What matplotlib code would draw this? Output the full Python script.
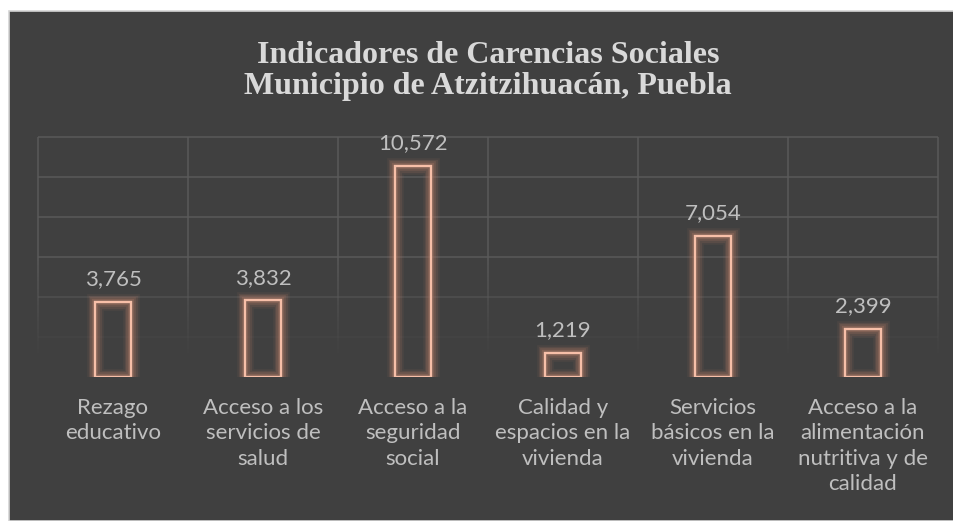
import matplotlib
matplotlib.use("Agg")
import matplotlib.pyplot as plt
from matplotlib.patches import Rectangle
from matplotlib.collections import LineCollection
import numpy as np

categories = ["Rezago\neducativo",
              "Acceso a los\nservicios de\nsalud",
              "Acceso a la\nseguridad\nsocial",
              "Calidad y\nespacios en la\nvivienda",
              "Servicios\nbásicos en la\nvivienda",
              "Acceso a la\nalimentación\nnutritiva y de\ncalidad"]
values = [3765, 3832, 10572, 1219, 7054, 2399]
yticks = [0, 2000, 4000, 6000, 8000, 10000, 12000]
title = "Indicadores de Carencias Sociales\nMunicipio de Atzitzihuacán, Puebla"

BG = "#404040"
EDGE = "#F7BFA8"
GLOW = "#A87462"
TXT = "#BFBFBF"
TITLE_C = "#D9D9D9"
FONT = "Lato"

W, H = 954, 521
fig = plt.figure(figsize=(W / 100, H / 100), dpi=100)
fig.patch.set_facecolor("white")
panel = Rectangle((9 / W, 0), 1 - 9 / W, 1 - 11 / H, transform=fig.transFigure,
                  facecolor=BG, edgecolor="#D4D4D4", lw=1.2, zorder=-10)
fig.patches.append(panel)

ax = fig.add_axes([38 / W, 144 / H, 900 / W, 240 / H])
ax.set_facecolor("none")
x = np.arange(len(values))
ax.set_xlim(-0.5, len(values) - 0.5)
ax.set_ylim(yticks[0], yticks[-1])
for s in ax.spines.values():
    s.set_visible(False)
ax.set_xticks([])
ax.set_yticks([])

# gridlines fading towards the bottom
def fade(y):
    return float(np.clip((y - 1000) / 5000.0, 0, 1))

hsegs, hcols = [], []
for yv in yticks:
    a = fade(yv)
    if a > 0:
        hsegs.append([(-0.5, yv), (len(values) - 0.5, yv)])
        hcols.append((0.353, 0.353, 0.353, a))
ax.add_collection(LineCollection(hsegs, colors=hcols, linewidths=1.1, zorder=1, clip_on=False))

vsegs, vcols = [], []
ys = np.linspace(yticks[0], yticks[-1], 61)
for xb in np.arange(-0.5, len(values), 1.0):
    for y0, y1 in zip(ys[:-1], ys[1:]):
        a = fade((y0 + y1) / 2)
        if a > 0:
            vsegs.append([(xb, y0), (xb, y1)])
            vcols.append((0.353, 0.353, 0.353, a))
ax.add_collection(LineCollection(vsegs, colors=vcols, linewidths=1.1, zorder=1, clip_on=False))

bw = 0.245
# glow
for lw, a in [(12, 0.10), (9.5, 0.16), (7, 0.24), (4.5, 0.36)]:
    ax.bar(x, values, bw, facecolor="none", edgecolor=GLOW, alpha=a, linewidth=lw, zorder=2)
ax.bar(x, values, bw, facecolor="none", edgecolor=EDGE, linewidth=1.7, zorder=3)

for xi, v in zip(x, values):
    ax.annotate(f"{v:,}", (xi, v), xytext=(0, 12), textcoords="offset points",
                ha="center", va="baseline", color=TXT, fontsize=16, family=FONT, zorder=4)

for xi, lab in zip(x, categories):
    ax.text(xi, -21 / 240, lab, transform=ax.get_xaxis_transform(), ha="center", va="top",
            color=TXT, fontsize=16, family=FONT, linespacing=1.33, multialignment="center")

fig.text(488 / W, 1 - 94 / H, title, ha="center", va="baseline", color=TITLE_C,
         fontsize=23, family="Liberation Serif", fontweight="bold", linespacing=1.1,
         multialignment="center")

fig.savefig("out.png", dpi=100, facecolor=fig.get_facecolor())
